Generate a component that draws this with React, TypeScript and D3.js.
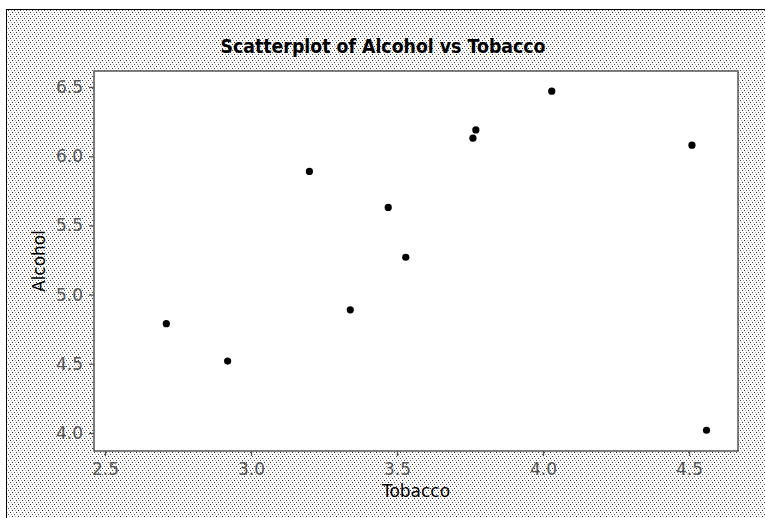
import React, { useEffect, useRef } from 'react'
import * as d3 from 'd3'

const tobacco = [4.03, 3.76, 3.77, 3.34, 3.47, 2.92, 3.2, 2.71, 3.53, 4.51, 4.56]
const alcohol = [6.47, 6.13, 6.19, 4.89, 5.63, 4.52, 5.89, 4.79, 5.27, 6.08, 4.02]
const xTicks = [2.5, 3.0, 3.5, 4.0, 4.5]
const yTicks = [4.0, 4.5, 5.0, 5.5, 6.0, 6.5]

const W = 765
const H = 518
const plot = { left: 94, top: 71, right: 738, bottom: 451 }
const font = 'DejaVu Sans, Verdana, sans-serif'

const App = () => {
  const ref = useRef<SVGSVGElement>(null)

  useEffect(() => {
    draw()
  })

  const draw = () => {
    const svg = d3.select(ref.current)
    svg.selectAll('*').remove()

    const x = d3.scaleLinear().domain([2.5, 4.5]).range([105, 689])
    const y = d3.scaleLinear().domain([4.0, 6.5]).range([433, 87])

    // dotted hatch background
    const defs = svg.append('defs')
    const pat = defs
      .append('pattern')
      .attr('id', 'hatch')
      .attr('patternUnits', 'userSpaceOnUse')
      .attr('width', 6)
      .attr('height', 6)
    pat.append('rect').attr('width', 6).attr('height', 6).attr('fill', '#ffffff')
    const dots: [number, number, string][] = [
      [0, 0, '#222'], [3, 0, '#b0b0b0'],
      [1, 2, '#b8b8b8'], [4, 2, '#333'],
      [2, 4, '#444'], [5, 4, '#aaa'],
    ]
    dots.forEach(([dx, dy, c]) => {
      pat.append('rect').attr('x', dx).attr('y', dy).attr('width', 1).attr('height', 1).attr('fill', c)
    })

    svg.append('rect').attr('x', 0).attr('y', 0).attr('width', W).attr('height', H).attr('fill', '#fff')
    svg
      .append('rect')
      .attr('x', 6.5)
      .attr('y', 9.5)
      .attr('width', W + 100)
      .attr('height', H + 100)
      .attr('fill', 'url(#hatch)')
      .attr('stroke', '#000')
      .attr('stroke-width', 1)

    // plot area
    svg
      .append('rect')
      .attr('x', plot.left)
      .attr('y', plot.top)
      .attr('width', plot.right - plot.left)
      .attr('height', plot.bottom - plot.top)
      .attr('fill', '#fff')
      .attr('stroke', '#555')
      .attr('stroke-width', 1.5)

    const xAxis = svg
      .append('g')
      .attr('transform', `translate(0,${plot.bottom})`)
      .call(
        d3.axisBottom(x).tickValues(xTicks).tickSize(5).tickPadding(7).tickFormat(d3.format('.1f'))
      )
    const yAxis = svg
      .append('g')
      .attr('transform', `translate(${plot.left},0)`)
      .call(
        d3.axisLeft(y).tickValues(yTicks).tickSize(5).tickPadding(6).tickFormat(d3.format('.1f'))
      )
    ;[xAxis, yAxis].forEach((g) => {
      g.select('.domain').remove()
      g.selectAll('line').attr('stroke', '#555').attr('stroke-width', 1.3)
      g.selectAll('text')
        .attr('fill', '#555')
        .style('font-family', font)
        .style('font-size', '17px')
    })

    // points
    svg
      .append('g')
      .selectAll('circle')
      .data(tobacco)
      .enter()
      .append('circle')
      .attr('cx', (d) => x(d))
      .attr('cy', (_d, i) => y(alcohol[i]))
      .attr('r', 3.6)
      .attr('fill', '#000')

    svg
      .append('text')
      .attr('x', 383)
      .attr('y', 53)
      .attr('text-anchor', 'middle')
      .attr('textLength', 325)
      .attr('lengthAdjust', 'spacingAndGlyphs')
      .style('font-family', font)
      .style('font-weight', 'bold')
      .style('font-size', '20px')
      .text('Scatterplot of Alcohol vs Tobacco')

    svg
      .append('text')
      .attr('x', 416)
      .attr('y', 497)
      .attr('text-anchor', 'middle')
      .style('font-family', font)
      .style('font-size', '17px')
      .text('Tobacco')

    svg
      .append('text')
      .attr('transform', `translate(45,${(plot.top + plot.bottom) / 2}) rotate(-90)`)
      .attr('text-anchor', 'middle')
      .style('font-family', font)
      .style('font-size', '17px')
      .text('Alcohol')
  }

  return (
    <svg
      ref={ref}
      width={W}
      height={H}
      style={{ position: 'absolute', left: 0, top: 0, display: 'block' }}
    />
  )
}

export default App
